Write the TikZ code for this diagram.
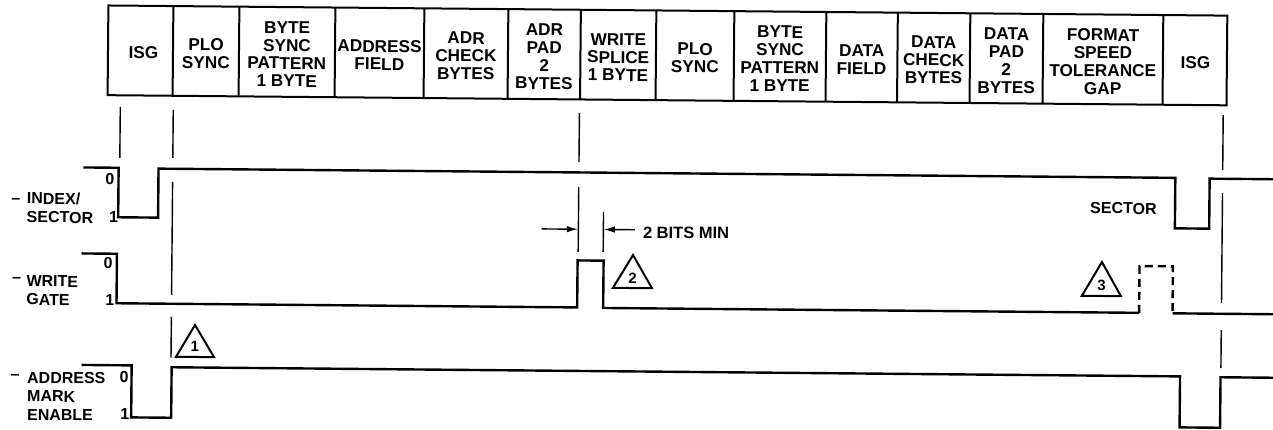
\documentclass[tikz,border=0pt]{standalone}
\usepackage{fontspec}
\setmainfont{Liberation Sans}
\usetikzlibrary{arrows.meta}
\begin{document}
\begin{tikzpicture}[x=1pt,y=-1pt,
  hdr/.style={font=\fontsize{17.2}{17.8}\selectfont\bfseries, align=center, inner sep=0pt},
  lbl/.style={font=\fontsize{16}{18}\selectfont\bfseries, anchor=base west, inner sep=0pt},
  cellbox/.style={line width=2pt},
  sig/.style={line width=2.4pt, line join=miter},
  refl/.style={line width=1.4pt},
  tri/.style={line width=2pt, line join=miter},
  trinum/.style={font=\fontsize{15}{15}\selectfont\bfseries, inner sep=0pt},
  dimarrow/.style={line width=1.4pt, -{Latex[length=11pt,width=6.5pt]}}
]
\useasboundingbox (0,0) rectangle (1273,430);
\fill[white] (0,0) rectangle (1273,430);
\begin{scope}[rotate around={-0.52:(640,215)}, transform shape]
% header
\draw[cellbox] (106.5,10.3) rectangle (1225.5,100);
\foreach \x in {171.5,237.5,333.5,422.5,506.5,579,654.5,732.5,824.5,896,968.5,1041.5,1161.5}
  \draw[cellbox] (\x,10.3) -- (\x,100);
\node[hdr] (isgA) at (142,57.5) {ISG};
\node[hdr] (ploA) at (204.5,57.5) {PLO\\SYNC};
\node[hdr] (bspA) at (285.5,57.5) {BYTE\\SYNC\\PATTERN\\1 BYTE};
\node[hdr] (adrF) at (378,57.5) {ADDRESS\\FIELD};
\node[hdr] (adrC) at (464.5,57.5) {ADR\\CHECK\\BYTES};
\node[hdr] (adrP) at (542.75,57.5) {ADR\\PAD\\2\\BYTES};
\node[hdr] (wspl) at (616.75,57.5) {WRITE\\SPLICE\\1 BYTE};
\node[hdr] (ploB) at (693.5,57.5) {PLO\\SYNC};
\node[hdr] (bspB) at (778.5,57.5) {BYTE\\SYNC\\PATTERN\\1 BYTE};
\node[hdr] (datF) at (860.25,57.5) {DATA\\FIELD};
\node[hdr] (datC) at (932.25,57.5) {DATA\\CHECK\\BYTES};
\node[hdr] (datP) at (1005,57.5) {DATA\\PAD\\2\\BYTES};
\node[hdr] (fstg) at (1101.5,57.5) {FORMAT\\SPEED\\TOLERANCE\\GAP};
\node[hdr] (isgB) at (1194,57.5) {ISG};
% reference lines
\draw[refl] (119.3,111.7) -- (119.3,162.7);
\draw[refl] (172.3,114) -- (172.3,162) (172.3,186) -- (172.3,299) (172.3,321) -- (172.3,362);
\draw[refl] (578.5,113.5) -- (578.5,162.5) (578.5,187.5) -- (578.5,252.5);
\draw[refl] (603.5,212.3) -- (603.5,252.3);
\draw[refl] (1222.3,109.8) -- (1222.3,164.8) (1222.3,187.8) -- (1222.3,297.8) (1222.3,324.8) -- (1222.3,362.8);
% signals
\draw[sig] (83,172.5) -- (118.2,172.5) -- (118.2,222) -- (158.1,222) -- (158.1,173) -- (1175,173) -- (1175,223.5) -- (1209.3,223.5) -- (1209.3,173.5) -- (1290,173.5);
\draw[sig] (82,258.5) -- (117.3,258.5) -- (117.3,308) -- (578,308) -- (578,261) -- (604,261) -- (604,308.3) -- (1140,308.3);
\draw[sig, dash pattern=on 8pt off 5pt] (1140,308.3) -- (1140,261.5) -- (1173.4,261.5) -- (1173.4,308.5);
\draw[sig] (1173.4,308.5) -- (1290,308.5);
\draw[sig] (83,370) -- (133,370) -- (133,422) -- (173,422) -- (173,371.5) -- (1181.5,371.5) -- (1181.5,422.5) -- (1222,422.5) -- (1222,372) -- (1290,372);
% triangles
\draw[tri] (196,329) -- (215.3,361) -- (177.3,361) -- cycle;
\node[trinum] (t1) at (196,350.5) {1};
\draw[tri] (633.4,255.1) -- (652.6,288.1) -- (613.6,288.1) -- cycle;
\node[trinum] (t2) at (633.1,278) {2};
\draw[tri] (1102.4,257.8) -- (1121.6,291.8) -- (1082.6,291.8) -- cycle;
\node[trinum] (t3) at (1102.2,281.2) {3};
% 2 bits min
\coordinate (dl) at (541.7,229.8);
\coordinate (dlt) at (578,229.8);
\coordinate (dr) at (635,229.8);
\coordinate (drt) at (604,229.8);
\draw[dimarrow] (dl) -- (dlt);
\draw[dimarrow] (dr) -- (drt);
\node[lbl, font=\fontsize{16.5}{18}\selectfont\bfseries] (bits) at (643,238) {2 BITS MIN};
\node[lbl] (sect) at (1090,209.6) {SECTOR};
% left labels
\node[lbl] (idxd) at (11,209) {–};
\node[lbl] (idx) at (26.6,209.5) {INDEX/};
\node[lbl] (sec) at (26.6,228.2) {SECTOR};
\node[lbl] (idx0) at (105,189.1) {0};
\node[lbl] (idx1) at (109,227.5) {1};
\node[lbl] (wgd) at (12.5,288) {–};
\node[lbl] (wg) at (27,292.2) {WRITE};
\node[lbl] (gate) at (27,310.5) {GATE};
\node[lbl] (wg0) at (104,273.8) {0};
\node[lbl] (wg1) at (106,310) {1};
\node[lbl] (amd) at (12,385.6) {–};
\node[lbl] (am) at (28.5,388.9) {ADDRESS};
\node[lbl] (am0) at (121,387.7) {0};
\node[lbl] (mark) at (28.7,407.3) {MARK};
\node[lbl] (enab) at (28.8,425.6) {ENABLE};
\node[lbl] (am1) at (122,424.7) {1};
\end{scope}
\end{tikzpicture}
\end{document}
